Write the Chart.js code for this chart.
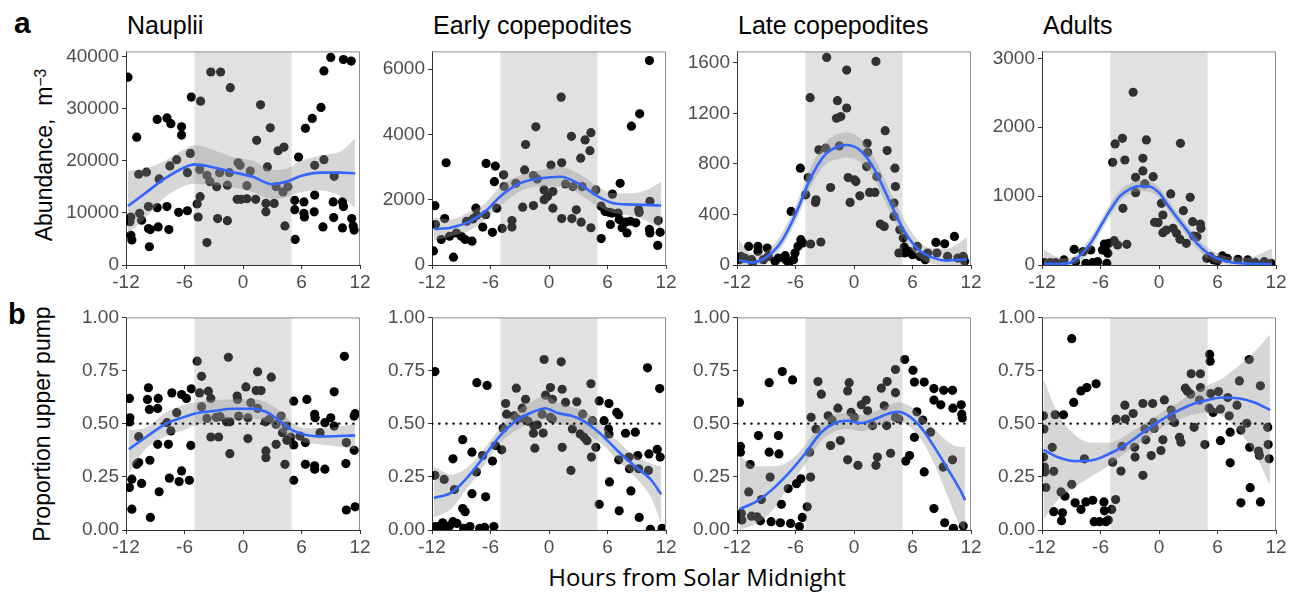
<!DOCTYPE html>
<html>
<head>
<meta charset="utf-8">
<title>Copepod day/night distribution</title>
<script src="https://cdn.jsdelivr.net/npm/chart.js@4.4.1/dist/chart.umd.min.js"></script>
<style>
	body { margin: 0; background: #fff; width: 1293px; height: 596px; overflow: hidden; position: relative;
		font-family: 'Liberation Sans', Arial, Helvetica, sans-serif; }
	canvas { position: absolute; }
	.txt { position: absolute; white-space: nowrap; color: #000; line-height: 1; }
	.tag { font-weight: bold; }
	.title { font-size: 25px; }
	.ytitle { font-size: 23px; transform: translate(-50%, -50%) rotate(-90deg); }
	.ytitle sup { font-size: 0.68em; position: relative; top: -0.4em; vertical-align: baseline; }
	.xtitle { font-family: 'Open Sans', 'Noto Sans', sans-serif; font-size: 24px; transform: translateX(-50%); }
</style>
</head>
<body>

<div class="txt tag" style="left:14px; top:8px; font-size:30px;">a</div>
<div class="txt tag" style="left:8px; top:300px; font-size:29px;">b</div>

<div class="txt title" style="left:127px; top:13px;">Nauplii</div>
<div class="txt title" style="left:433px; top:13px;">Early copepodites</div>
<div class="txt title" style="left:738px; top:13px;">Late copepodites</div>
<div class="txt title" style="left:1043px; top:13px;">Adults</div>

<div class="txt ytitle" style="left:44px; top:155px;">Abundance,&nbsp; m<sup>&minus;3</sup></div>
<div class="txt ytitle" style="left:42px; top:424px;">Proportion upper pump</div>
<div class="txt xtitle" style="left:697px; top:565px;">Hours from Solar Midnight</div>

<script>
// hours from solar midnight where the night shading starts / ends
var nightHours = [-5, 5];
var hourTicks = [-12, -6, 0, 6, 12];

// y tick labels of each panel
var naupliiTicks = [0, 10000, 20000, 30000, 40000];
var earlyTicks = [0, 2000, 4000, 6000];
var lateTicks = [0, 400, 800, 1200, 1600];
var adultTicks = [0, 1000, 2000, 3000];
var propTicks = [0, 0.25, 0.5, 0.75, 1];

// ---- row a : abundance (m^-3) ----
var naupliiPoints = [
	[-11.8,36000],[-10.9,24500],[-8.8,27900],[-7.8,28200],[-7.4,27100],[-6.3,26500],[-6.3,24900],[-5.3,32200],
	[-5.4,21400],[-6.8,20200],[-7.5,19000],[-5.7,17700],[-10.7,17400],[-9.9,17800],[-8.6,16500],[-11.5,9200],
	[-11.6,8300],[-10.6,9900],[-10.4,8600],[-9.7,11200],[-8.8,11000],[-7.8,11200],[-6.6,10100],[-5.7,10400],
	[-9.7,7000],[-9.5,6800],[-8.7,7300],[-7.6,6800],[-9.6,3500],[-11.5,5700],[-11.4,4800],
	[-4.35,31400],[-3.3,37000],[-2.3,37000],[-1.3,34000],[1.8,30700],[2.8,26300],[1.4,23900],[3.6,21900],
	[4.2,22600],[-4.45,18300],[-3.7,17200],[-3.4,16000],[-2.7,15000],[-2.4,17700],[-1.4,17700],[-1.6,15300],
	[-0.5,19600],[-0.3,19100],[-0.6,12600],[-0.2,12600],[0.4,12700],[1.3,12600],[0.4,15200],[0.75,18000],
	[2.5,18800],[2.35,11800],[3.2,11800],[2.35,10200],[3.4,15000],[4.1,14000],[4.6,15000],[-4.7,11700],
	[-4.4,13100],[-4.6,9200],[-2.6,8900],[-1.6,8500],[-3.7,4300],[4.3,7500],
	[5.7,20700],[5.3,12400],[5.3,10600],[6.25,12100],[6.25,9900],[6.3,9200],[7.3,10200],[7.35,13400],
	[7.35,19100],[8.3,20200],[6.4,26200],[7.1,28100],[8.0,30200],[8.3,37200],[9.0,39800],[10.3,39400],
	[11.1,39100],[5.35,4900],[8.2,7300],[9.25,12100],[9.3,9100],[9.35,17000],[10.2,12100],[10.3,11200],
	[10.2,7100],[11.15,8900],[11.3,7500],[11.4,6700]
];
var naupliiFitHours = [-11.8, -10, -8, -6, -5, -3, -1, 1, 3, 4.5, 6, 8, 10, 11.5];
var naupliiFit  = [11300, 13800, 16600, 18700, 19300, 18700, 17800, 16900, 15500, 16000, 17100, 17700, 17700, 17600];
var naupliiLow  = [6000, 9000, 13000, 15200, 15600, 15400, 14900, 14000, 12600, 13000, 14000, 14300, 13200, 11000];
var naupliiHigh = [18000, 18500, 20000, 22200, 23000, 22000, 20700, 20000, 18200, 18500, 20000, 21000, 21800, 24200];

var earlyPoints = [
	[-11.7,1815],[-11.65,1240],[-11.85,430],[-10.55,3130],[-10.7,1420],[-11.05,780],[-10.2,880],[-9.8,240],
	[-9.5,980],[-9.0,880],[-8.6,780],[-7.9,730],[-7.5,1740],[-7.4,1520],[-6.8,1160],[-6.45,3110],[-5.5,3030],
	[-5.6,2550],[-5.35,1740],[-5.8,1000],[-8.45,1340],[-7.8,1410],[-6.5,1540],
	[-4.65,2760],[-4.6,2400],[-4.8,1120],[-3.8,1360],[-3.8,1160],[-3.4,2500],[-2.4,3690],[-2.5,2910],
	[-2.7,1770],[-1.6,1820],[-1.35,4230],[-1.6,2740],[-1.2,2630],[-0.5,2300],[-0.5,2000],[-0.14,2100],
	[0.4,2250],[0.4,1740],[0.2,3060],[1.25,5140],[1.3,3130],[1.3,1420],[1.7,2480],[2.3,3940],[2.35,1420],
	[2.45,2400],[2.8,1690],[3.25,3270],[3.3,1310],[3.7,3830],[4.3,4050],[4.2,3500],[3.4,2400],[4.3,1140],
	[4.8,2300],
	[5.35,810],[5.35,1800],[5.75,1640],[6.2,1610],[6.45,1590],[6.5,2170],[6.3,1240],[7.1,1590],[7.3,2500],
	[7.2,1390],[7.5,1140],[8.0,980],[8.35,1340],[8.45,4250],[8.9,1290],[9.3,4630],[9.2,1690],[9.25,1610],
	[10.3,6260],[10.35,1950],[10.3,1090],[10.35,980],[11.2,1360],[11.15,600],[11.4,1000],[7.85,1310]
];
var earlyFitHours = [-11.8, -10, -8, -6.5, -5, -3, -1, 1.2, 3, 5, 6.5, 8.5, 10, 11.5];
var earlyFit  = [1100, 1150, 1350, 1650, 2100, 2500, 2650, 2700, 2500, 2100, 1900, 1850, 1840, 1820];
var earlyLow  = [750, 880, 1080, 1400, 1800, 2250, 2400, 2400, 2200, 1800, 1600, 1500, 1350, 1100];
var earlyHigh = [1450, 1400, 1650, 1900, 2400, 2750, 2900, 3000, 2800, 2400, 2200, 2200, 2300, 2550];

var latePoints = [
	[-11.75,42],[-11.6,68],[-11.2,55],[-10.8,147],[-10.5,42],[-10.4,21],[-9.85,147],[-9.85,108],[-9.3,42],
	[-8.9,134],[-8.8,68],[-8.1,29],[-7.75,55],[-7.05,74],[-7.0,42],[-6.7,16],[-6.2,42],[-6.05,95],[-6.45,424],
	[-5.5,766],[-5.45,200],[-5.75,147],[-5.25,174],
	[-4.95,555],[-4.7,692],[-4.5,1324],[-4.45,166],[-3.95,495],[-3.9,516],[-3.4,182],[-3.6,911],[-2.9,924],
	[-2.8,1642],[-2.4,613],[-1.7,1300],[-1.8,1161],[-1.35,1174],[-1.5,942],[-0.75,1542],[-0.75,1242],
	[-0.6,692],[-0.4,495],[0.05,674],[0.2,660],[0.6,547],[1.35,963],[1.4,890],[1.3,779],[1.6,574],[2.15,574],
	[2.25,1611],[2.35,700],[2.7,324],[3.1,305],[3.2,1063],[3.4,905],[4.1,490],[4.2,766],[4.25,621],[4.1,384],
	[4.6,95],[4.7,279],
	[5.05,213],[5.15,142],[5.2,95],[5.65,108],[6.0,82],[6.5,147],[6.75,68],[7.3,42],[7.55,95],[8.4,179],
	[8.5,95],[9.3,168],[9.6,68],[10.3,226],[10.65,55],[11.2,68],[11.35,29]
];
var lateFitHours = [-11.8, -10.5, -9, -7.5, -6, -4.5, -3, -1.5, -0.8, 0.5, 2, 3.5, 5, 6.5, 8, 9.5, 11.6];
var lateFit  = [40, 20, 60, 180, 400, 680, 870, 940, 950, 915, 770, 530, 290, 130, 60, 35, 45];
var lateLow  = [0, 0, 20, 130, 340, 610, 790, 840, 850, 820, 690, 450, 220, 70, 10, 0, 0];
var lateHigh = [200, 90, 110, 240, 470, 760, 960, 1040, 1050, 1010, 860, 620, 380, 200, 130, 130, 220];

var adultPoints = [
	[-11.7,34],[-11.15,34],[-10.6,34],[-9.75,73],[-8.7,227],[-8.55,48],[-7.8,194],[-7.5,24],[-7.0,218],
	[-6.8,34],[-6.3,48],[-5.8,218],[-5.6,305],[-5.45,208],[-5.35,24],[-5.25,169],[-5.15,315],
	[-4.75,1490],[-4.5,1757],[-4.6,353],[-4.25,290],[-3.75,1839],[-3.7,823],[-3.5,1524],[-3.3,300],
	[-2.65,2507],[-2.4,1273],[-2.4,1050],[-1.65,1549],[-1.65,1365],[-1.3,1815],[-1.45,1176],[-0.6,1282],
	[-0.45,619],[-0.1,615],[0.25,895],[0.4,726],[0.4,469],[0.75,508],[1.2,1031],[1.45,532],[1.8,460],
	[2.15,373],[2.2,1766],[2.5,789],[2.8,315],[3.2,982],[3.45,629],[3.9,411],[4.25,595],[4.3,532],[3.55,420],
	[4.9,97],[5.25,121],[5.6,73],[6.0,63],[6.5,131],[7.0,97],[8.1,82],[9.1,73],[9.9,34],[10.8,48],[11.5,24]
];
var adultFitHours = [-11.8, -10, -9, -8, -7, -6, -5, -4, -3, -2, -1, 0, 1, 2, 3, 4, 5, 6, 7.5, 9, 11.6];
var adultFit  = [20, 15, 40, 150, 320, 560, 800, 1000, 1100, 1145, 1140, 1050, 850, 660, 480, 300, 170, 95, 35, 20, 10];
var adultLow  = [0, 0, 0, 60, 230, 470, 710, 920, 1030, 1070, 1060, 980, 780, 580, 400, 220, 90, 20, 0, 0, 0];
var adultHigh = [220, 100, 110, 230, 410, 650, 890, 1080, 1180, 1230, 1220, 1130, 930, 740, 560, 380, 250, 170, 110, 110, 240];

// ---- row b : proportion in upper pump ----
var naupliiPropPoints = [
	[-11.65,.619],[-11.6,.528],[-11.65,.508],[-11.4,.239],[-11.65,.2],[-11.4,.098],[-10.7,.439],[-10.9,.309],
	[-10.7,.317],[-10.4,.219],[-9.7,.669],[-9.8,.614],[-9.6,.567],[-9.55,.328],[-9.5,.059],[-8.75,.403],
	[-8.7,.619],[-8.75,.572],[-8.6,.18],[-7.8,.505],[-7.65,.403],[-7.55,.244],[-7.4,.466],[-7.3,.645],
	[-6.8,.552],[-6.3,.637],[-6.55,.228],[-6.3,.278],[-5.8,.619],[-5.5,.234],[-5.35,.398],[-5.3,.664],
	[-4.7,.794],[-4.25,.723],[-4.45,.645],[-4.25,.58],[-3.55,.653],[-3.3,.619],[-3.7,.525],[-3.3,.4375],
	[-2.5,.4375],[-2.35,.533],[-2.75,.53],[-1.5,.8125],[-1.7,.509],[-1.35,.509],[-1.35,.359],[-0.6,.63],
	[-0.55,.614],[-0.45,.536],[0.3,.673],[0.5,.528],[0.5,.43],[0.8,.598],[1.35,.656],[1.5,.744],[1.85,.656],
	[1.5,.572],[2.3,.509],[2.9,.719],[2.35,.372],[2.35,.34],[2.7,.52],[3.4,.497],[3.4,.403],[3.9,.536],
	[4.05,.458],[4.3,.309],[4.45,.489],[4.5,.422],[4.9,.4375],
	[5.2,.606],[5.2,.4],[5.2,.234],[5.85,.442],[6.4,.411],[6.55,.614],[6.4,.309],[7.35,.302],[7.35,.286],
	[7.35,.544],[7.4,.528],[7.9,.458],[8.4,.505],[8.4,.286],[9.0,.528],[9.35,.65],[9.35,.489],[10.4,.817],
	[10.55,.3125],[10.6,.411],[10.6,.094],[11.4,.375],[11.4,.536],[11.5,.547],[11.5,.109]
];
var naupliiPropFitHours = [-11.7, -10, -8, -6, -5, -3, -1, 1, 2.4, 3.8, 5.2, 6.5, 8.5, 11.5];
var naupliiPropFit  = [.38, .435, .497, .532, .547, .56, .57, .57, .555, .512, .466, .447, .44, .445];
var naupliiPropLow  = [.27, .38, .44, .47, .49, .51, .525, .525, .51, .465, .43, .41, .40, .38];
var naupliiPropHigh = [.47, .48, .55, .59, .60, .61, .615, .615, .60, .56, .50, .48, .48, .50];

var earlyPropPoints = [
	[-11.7,.745],[-11.7,.257],[-10.75,.238],[-11.65,.016],[-11.5,.008],[-11.15,.019],[-10.9,.034],[-10.7,.008],
	[-10.2,.019],[-9.85,.039],[-9.45,.031],[-8.75,.008],[-8.1,.016],[-7.1,.008],[-6.6,.012],[-5.65,.016],
	[-9.85,.335],[-9.7,.19],[-8.85,.425],[-8.85,.101],[-8.6,.086],[-7.9,.366],[-7.9,.171],[-7.45,.273],
	[-7.4,.693],[-6.8,.35],[-6.5,.156],[-6.35,.68],[-5.8,.324],[-5.5,.397],
	[-4.85,.377],[-4.7,.478],[-4.45,.595],[-4.35,.545],[-3.6,.537],[-3.35,.667],[-3.25,.522],[-2.75,.573],
	[-2.4,.615],[-2.5,.522],[-2.15,.511],[-1.6,.455],[-1.45,.385],[-1.55,.49],[-1.2,.495],[-0.5,.802],
	[-0.6,.456],[-0.7,.545],[-0.35,.634],[0.15,.67],[0.35,.615],[0.15,.53],[0.35,.522],[1.25,.791],
	[1.35,.662],[1.35,.389],[1.7,.6],[2.25,.28],[2.4,.475],[2.85,.603],[3.2,.452],[3.45,.545],[3.6,.436],
	[3.9,.42],[4.3,.688],[4.35,.343],[4.8,.389],[4.45,.514],
	[5.15,.607],[5.15,.121],[5.65,.514],[6.15,.595],[6.1,.475],[6.15,.452],[6.2,.226],[6.95,.553],[7.15,.542],
	[7.15,.33],[7.2,.09],[7.85,.455],[8.2,.343],[8.25,.288],[8.4,.184],[8.85,.46],[9.1,.35],[9.2,.288],
	[9.25,.059],[10.1,.763],[10.2,.28],[10.25,.358],[10.4,.003],[11.1,.379],[11.35,.665],[11.4,.343],[11.6,.008]
];
var earlyPropFitHours = [-11.8, -10, -8.5, -6.7, -5, -3.3, -1.5, -0.4, 0.9, 2.3, 3.6, 5.3, 7, 8.8, 10.5, 11.5];
var earlyPropFit  = [.151, .176, .24, .343, .444, .517, .558, .573, .55, .537, .511, .452, .374, .30, .234, .168];
var earlyPropLow  = [.06, .10, .19, .30, .41, .47, .51, .52, .50, .49, .46, .41, .33, .25, .15, .03];
var earlyPropHigh = [.30, .26, .29, .38, .48, .56, .61, .63, .60, .58, .56, .50, .42, .35, .31, .30];

var latePropPoints = [
	[-11.75,.6],[-11.65,.393],[-11.65,.366],[-11.75,.062],[-11.5,.047],[-11.55,.078],[-10.8,.179],[-10.65,.308],
	[-10.5,.065],[-9.95,.062],[-9.6,.044],[-9.8,.444],[-9.5,.143],[-8.7,.693],[-8.7,.366],[-8.6,.249],
	[-8.5,.039],[-7.75,.444],[-7.7,.358],[-7.35,.745],[-7.45,.121],[-7.55,.034],[-6.75,.195],[-6.3,.706],
	[-6.5,.031],[-5.9,.218],[-5.45,.241],[-5.6,.016],[-5.3,.059],
	[-4.8,.109],[-4.45,.249],[-4.55,.366],[-4.4,.53],[-3.9,.475],[-3.7,.698],[-3.35,.639],[-2.65,.537],
	[-2.4,.397],[-2.25,.517],[-1.65,.573],[-1.4,.421],[-0.65,.654],[-0.65,.33],[-0.5,.693],[-0.3,.553],
	[0.05,.53],[0.4,.304],[0.75,.589],[1.25,.611],[1.4,.561],[1.9,.491],[2.25,.304],[2.4,.343],[2.8,.667],
	[3.1,.584],[3.4,.698],[3.35,.491],[3.75,.361],[4.25,.755],[4.25,.646],[4.25,.53],[4.6,.522],
	[5.2,.802],[5.3,.324],[5.7,.35],[6.05,.751],[6.2,.696],[6.2,.436],[6.45,.556],[7.05,.517],[7.2,.696],
	[7.2,.273],[7.85,.46],[8.2,.665],[8.2,.611],[8.2,.101],[8.9,.589],[9.15,.296],[9.2,.657],[9.3,.034],
	[10.1,.657],[10.15,.573],[10.1,.33],[10.2,.008],[11.0,.589],[11.05,.545],[11.1,.527],[11.2,.019]
];
var latePropFitHours = [-11.75, -10, -8.4, -6.75, -5, -3.35, -1.95, -0.65, 0.7, 2, 3.4, 4.45, 5.45, 6.8, 8.15, 9.5, 10.9, 11.4];
var latePropFit  = [.098, .135, .19, .265, .36, .46, .503, .514, .503, .519, .545, .556, .542, .486, .397, .296, .187, .14];
var latePropLow  = [.0, .03, .09, .2, .31, .42, .465, .475, .465, .48, .505, .51, .495, .43, .32, .17, .02, .0];
var latePropHigh = [.35, .30, .30, .32, .40, .50, .545, .55, .54, .555, .585, .60, .59, .54, .48, .42, .39, .39];

var adultPropPoints = [
	[-11.85,.537],[-11.8,.475],[-11.85,.343],[-11.75,.296],[-11.7,.273],[-11.6,.2],[-10.95,.389],[-10.8,.276],
	[-10.65,.542],[-9.8,.542],[-10.8,.086],[-9.9,.081],[-10.0,.044],[-10.05,.179],[-9.65,.159],[-8.95,.215],
	[-8.95,.9],[-8.75,.6],[-8.6,.128],[-8.0,.654],[-7.4,.67],[-7.65,.335],[-8.0,.097],[-7.5,.132],[-6.8,.14],
	[-6.45,.688],[-6.65,.039],[-6.1,.039],[-5.65,.132],[-5.6,.09],[-5.45,.039],[-5.2,.047],
	[-4.85,.097],[-4.75,.319],[-4.45,.143],[-4.4,.522],[-3.9,.277],[-3.8,.394],[-3.5,.587],[-3.45,.522],
	[-2.65,.548],[-2.5,.389],[-2.45,.343],[-1.65,.595],[-1.65,.257],[-1.45,.475],[-1.35,.424],[-0.65,.595],
	[-0.8,.35],[-0.55,.506],[-0.5,.478],[0.2,.374],[0.4,.424],[0.55,.612],[1.25,.564],[1.3,.533],[1.6,.506],
	[2.1,.436],[2.25,.413],[2.7,.667],[2.9,.654],[3.3,.735],[3.25,.639],[3.6,.483],[4.25,.735],[4.25,.67],
	[4.15,.611],[4.7,.402],[5.2,.826],[5.25,.794],
	[5.15,.573],[5.3,.642],[5.55,.553],[6.1,.651],[6.3,.42],[6.3,.569],[7.05,.623],[7.2,.537],[7.3,.46],
	[7.3,.316],[8.0,.587],[8.25,.701],[8.4,.47],[8.4,.128],[9.0,.502],[9.25,.802],[9.3,.389],[9.35,.199],
	[10.2,.371],[10.3,.35],[10.4,.678],[10.4,.132],[11.15,.483],[11.2,.402],[11.3,.335]
];
var adultPropFitHours = [-11.85, -10.4, -8.7, -7, -5.25, -3.55, -1.85, -0.15, 1.6, 3.3, 5, 6.4, 8.1, 9.8, 11.4];
var adultPropFit  = [.377, .343, .324, .327, .355, .397, .452, .506, .553, .589, .611, .623, .62, .60, .564];
var adultPropLow  = [.05, .14, .20, .25, .30, .36, .41, .47, .51, .54, .55, .54, .47, .36, .21];
var adultPropHigh = [.71, .55, .45, .41, .41, .44, .49, .54, .59, .64, .68, .71, .77, .84, .92];

// ---- layout ----
var FONT = "'Liberation Sans', Arial, Helvetica, sans-serif";
var COL_LEFT = [126, 432, 737, 1042];
var ROW_TOP = [51, 317];
var ROW_HEIGHT = [214, 213];
var PANEL_W = 234;
var AXIS_W = 62, AXIS_H = 32, PAD_TOP = 14, PAD_RIGHT = 14;

var panels = [
	{ row: 0, col: 0, points: naupliiPoints, hours: naupliiFitHours, fit: naupliiFit, low: naupliiLow, high: naupliiHigh, yMax: 40950, yTicks: naupliiTicks },
	{ row: 0, col: 1, points: earlyPoints, hours: earlyFitHours, fit: earlyFit, low: earlyLow, high: earlyHigh, yMax: 6540, yTicks: earlyTicks },
	{ row: 0, col: 2, points: latePoints, hours: lateFitHours, fit: lateFit, low: lateLow, high: lateHigh, yMax: 1690, yTicks: lateTicks },
	{ row: 0, col: 3, points: adultPoints, hours: adultFitHours, fit: adultFit, low: adultLow, high: adultHigh, yMax: 3100, yTicks: adultTicks },
	{ row: 1, col: 0, points: naupliiPropPoints, hours: naupliiPropFitHours, fit: naupliiPropFit, low: naupliiPropLow, high: naupliiPropHigh, yMax: 1, yTicks: propTicks },
	{ row: 1, col: 1, points: earlyPropPoints, hours: earlyPropFitHours, fit: earlyPropFit, low: earlyPropLow, high: earlyPropHigh, yMax: 1, yTicks: propTicks },
	{ row: 1, col: 2, points: latePropPoints, hours: latePropFitHours, fit: latePropFit, low: latePropLow, high: latePropHigh, yMax: 1, yTicks: propTicks },
	{ row: 1, col: 3, points: adultPropPoints, hours: adultPropFitHours, fit: adultPropFit, low: adultPropLow, high: adultPropHigh, yMax: 1, yTicks: propTicks }
];

function toXY(xs, ys) {
	return xs.map(function(x, i) { return { x: x, y: ys[i] }; });
}

function fixedTicks(values) {
	return function(scale) {
		scale.ticks = values.map(function(v) { return { value: v }; });
	};
}

// grey frame on top and right of each panel
var panelFrame = {
	id: 'panelFrame',
	afterDatasetsDraw: function(chart) {
		var a = chart.chartArea, ctx = chart.ctx;
		ctx.save();
		ctx.strokeStyle = '#8c8c8c';
		ctx.lineWidth = 1;
		ctx.beginPath();
		ctx.moveTo(a.left, a.top + 0.5);
		ctx.lineTo(a.right - 0.5, a.top + 0.5);
		ctx.lineTo(a.right - 0.5, a.bottom);
		ctx.stroke();
		ctx.restore();
	}
};

function buildPanel(p) {
	var w = AXIS_W + PANEL_W + PAD_RIGHT;
	var h = PAD_TOP + ROW_HEIGHT[p.row] + AXIS_H;
	var canvas = document.createElement('canvas');
	canvas.width = w;
	canvas.height = h;
	canvas.style.left = (COL_LEFT[p.col] - AXIS_W) + 'px';
	canvas.style.top = (ROW_TOP[p.row] - PAD_TOP) + 'px';
	document.body.appendChild(canvas);

	var clear = 'rgba(0,0,0,0)';
	var datasets = [];
	datasets.push({
		type: 'line', data: toXY(p.hours, p.fit), borderColor: '#3366FF', borderWidth: 2.6,
		pointRadius: 0, fill: false, cubicInterpolationMode: 'monotone', order: 0
	});
	if (p.row === 1) {
		datasets.push({
			type: 'line', data: [{ x: hourTicks[0], y: 0.5 }, { x: hourTicks[4], y: 0.5 }],
			borderColor: '#111', borderWidth: 2.2, borderDash: [0.5, 6.6], borderCapStyle: 'round',
			pointRadius: 0, fill: false, order: 1
		});
	}
	datasets.push({
		type: 'line', data: toXY(p.hours, p.high), borderColor: clear, borderWidth: 0,
		pointRadius: 0, fill: '+1', backgroundColor: 'rgba(153,153,153,0.4)',
		cubicInterpolationMode: 'monotone', order: 2
	});
	datasets.push({
		type: 'line', data: toXY(p.hours, p.low), borderColor: clear, borderWidth: 0,
		pointRadius: 0, fill: false, cubicInterpolationMode: 'monotone', order: 2
	});
	datasets.push({
		type: 'line', data: [{ x: nightHours[0], y: p.yMax }, { x: nightHours[1], y: p.yMax }],
		borderColor: clear, borderWidth: 0, pointRadius: 0, fill: 'start',
		backgroundColor: 'rgba(159,159,159,0.31)', order: 3
	});
	datasets.push({
		type: 'scatter', data: p.points.map(function(d) { return { x: d[0], y: d[1] }; }),
		pointRadius: 4.6, pointBackgroundColor: '#000', pointBorderWidth: 0, borderColor: clear,
		clip: 0, order: 4
	});

	var tickFont = { family: FONT, size: 19 };
	return new Chart(canvas.getContext('2d'), {
		type: 'scatter',
		data: { datasets: datasets },
		options: {
			responsive: false,
			animation: false,
			events: [],
			layout: { padding: { top: PAD_TOP, right: PAD_RIGHT, left: 0, bottom: 0 } },
			plugins: { legend: { display: false }, tooltip: { enabled: false } },
			scales: {
				x: {
					type: 'linear', min: hourTicks[0], max: hourTicks[4],
					afterFit: function(s) { s.height = AXIS_H; },
					afterBuildTicks: fixedTicks(hourTicks),
					ticks: { color: '#4d4d4d', font: tickFont, padding: 2, maxRotation: 0, autoSkip: false,
						callback: function(v) { return String(v); } },
					grid: { drawOnChartArea: false, tickLength: 4, color: '#333', lineWidth: 1 },
					border: { color: '#333', width: 1 }
				},
				y: {
					min: 0, max: p.yMax,
					afterFit: function(s) { s.width = AXIS_W; },
					afterBuildTicks: fixedTicks(p.yTicks),
					ticks: { color: '#4d4d4d', font: tickFont, padding: 3, autoSkip: false,
						callback: function(v) { return p.row === 1 ? v.toFixed(2) : String(v); } },
					grid: { drawOnChartArea: false, tickLength: 4, color: '#333', lineWidth: 1 },
					border: { color: '#333', width: 1 }
				}
			}
		},
		plugins: [panelFrame]
	});
}

panels.forEach(buildPanel);
</script>
</body>
</html>
